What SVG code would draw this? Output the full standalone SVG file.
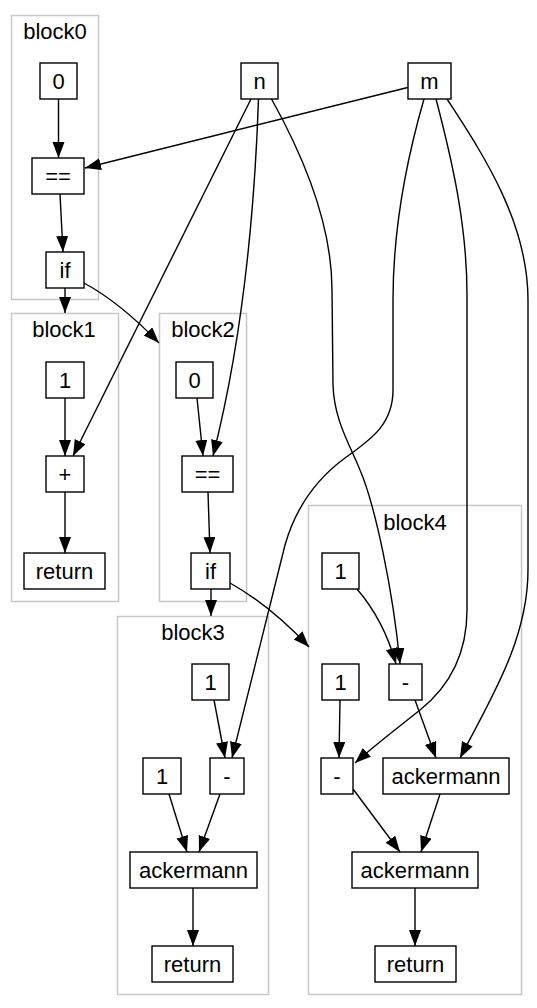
<svg xmlns="http://www.w3.org/2000/svg" width="537" height="1008" viewBox="0 0 537 1008">
<style>
text{font-family:"Liberation Sans",Arial,sans-serif;font-size:22px;text-anchor:middle;fill:#000}
.cl{fill:none;stroke:#c8c8c8;stroke-width:1.5}
.nd{fill:#fff;stroke:#000;stroke-width:1.4}
.e{fill:none;stroke:#000;stroke-width:1.4;marker-end:url(#ah)}
</style>
<defs>
<marker id="ah" markerUnits="userSpaceOnUse" markerWidth="17" markerHeight="13" refX="16" refY="6" orient="auto">
<path d="M0,0 L16,6 L0,12 z" fill="#000"/>
</marker>
</defs>
<rect width="537" height="1008" fill="#fff"/>
<g id="clusters">
<g id="block0"><rect class="cl" x="11.5" y="15.5" width="87" height="284"/><text x="55" y="39">block0</text></g>
<g id="block1"><rect class="cl" x="11.5" y="313.5" width="107" height="288"/><text x="64" y="337">block1</text></g>
<g id="block2"><rect class="cl" x="159.5" y="313.5" width="87" height="288"/><text x="203" y="337">block2</text></g>
<g id="block3"><rect class="cl" x="117.5" y="616.5" width="151" height="378"/><text x="193" y="640">block3</text></g>
<g id="block4"><rect class="cl" x="308.5" y="505.5" width="213" height="489"/><text x="415" y="530">block4</text></g>
</g>
<g id="edges">
<path class="e" d="M58.5,99 L58.5,158"/>
<path class="e" d="M60,194 L63,252"/>
<path class="e" d="M407.7,87.5 L85,168"/>
<path class="e" d="M65,288 L65,313"/>
<path class="e" d="M84,283 C108,296 135,318 159,343"/>
<path class="e" d="M251,99 L73,456"/>
<path class="e" d="M258.5,99 C255,200 245,330 213,456"/>
<path class="e" d="M271.5,99 C300,150 332,220 332,290 L333,385 C334,420 350,445 360,470 C375,505 393,590 400,664"/>
<path class="e" d="M424,99 C405,165 393,230 393,300 L393,390 C393,425 370,440 345,458 C315,480 295,510 285,545 L232,758"/>
<path class="e" d="M436,99 C452,160 467,225 467,295 L467,610 C467,660 445,690 420,710 C395,730 375,745 355,763"/>
<path class="e" d="M447,99 C480,150 528,220 528,300 L528,570 C528,640 490,700 460,758"/>
<path class="e" d="M211,589 L211,616"/>
<path class="e" d="M230,583 C255,597 282,618 309,647"/>
<path class="e" d="M65,398 L65,456"/>
<path class="e" d="M65,492 L65,553"/>
<path class="e" d="M197,398 L203,456"/>
<path class="e" d="M208,492 L210,553"/>
<path class="e" d="M214,700 L225,758"/>
<path class="e" d="M169,794 L187,852"/>
<path class="e" d="M220,794 L199,852"/>
<path class="e" d="M193,888 L193,946"/>
<path class="e" d="M357,589 C375,610 388,635 396,664"/>
<path class="e" d="M340,700 L339,758"/>
<path class="e" d="M415,700 L436,758"/>
<path class="e" d="M353,789 L400,852"/>
<path class="e" d="M440,794 L421,852"/>
<path class="e" d="M415,888 L415,946"/>
</g>
<g id="b0_0"><rect class="nd" x="40" y="63" width="37" height="36"/><text x="58.5" y="88.5">0</text></g>
<g id="b0_eq"><rect class="nd" x="32" y="158" width="52" height="36"/><text x="58" y="183.5">==</text></g>
<g id="b0_if"><rect class="nd" x="46" y="252" width="38" height="36"/><text x="65" y="277.5">if</text></g>
<g id="n"><rect class="nd" x="241" y="63" width="37" height="36"/><text x="259.5" y="88.5">n</text></g>
<g id="m"><rect class="nd" x="408" y="63" width="43" height="36"/><text x="429.5" y="88.5">m</text></g>
<g id="b1_1"><rect class="nd" x="46" y="362" width="38" height="36"/><text x="65" y="387.5">1</text></g>
<g id="b1_plus"><rect class="nd" x="46" y="456" width="38" height="36"/><text x="65" y="481.5">+</text></g>
<g id="b1_ret"><rect class="nd" x="24" y="553" width="81" height="36"/><text x="64.5" y="578.5">return</text></g>
<g id="b2_0"><rect class="nd" x="176" y="362" width="37" height="36"/><text x="194.5" y="387.5">0</text></g>
<g id="b2_eq"><rect class="nd" x="182" y="456" width="51" height="36"/><text x="207.5" y="481.5">==</text></g>
<g id="b2_if"><rect class="nd" x="191" y="553" width="39" height="36"/><text x="210.5" y="578.5">if</text></g>
<g id="b3_1a"><rect class="nd" x="192" y="664" width="37" height="36"/><text x="210.5" y="689.5">1</text></g>
<g id="b3_1b"><rect class="nd" x="143" y="758" width="38" height="36"/><text x="162" y="783.5">1</text></g>
<g id="b3_minus"><rect class="nd" x="210" y="758" width="34" height="36"/><text x="227" y="783.5">-</text></g>
<g id="b3_ack"><rect class="nd" x="130" y="852" width="127" height="36"/><text x="193.5" y="877.5">ackermann</text></g>
<g id="b3_ret"><rect class="nd" x="152" y="946" width="81" height="36"/><text x="192.5" y="971.5">return</text></g>
<g id="b4_1a"><rect class="nd" x="322" y="553" width="37" height="36"/><text x="340.5" y="578.5">1</text></g>
<g id="b4_minus_a"><rect class="nd" x="389" y="664" width="33" height="36"/><text x="405.5" y="689.5">-</text></g>
<g id="b4_1b"><rect class="nd" x="322" y="664" width="37" height="36"/><text x="340.5" y="689.5">1</text></g>
<g id="b4_minus_b"><rect class="nd" x="321" y="758" width="32" height="36"/><text x="337" y="783.5">-</text></g>
<g id="b4_ack_a"><rect class="nd" x="383" y="758" width="126" height="36"/><text x="446" y="783.5">ackermann</text></g>
<g id="b4_ack_b"><rect class="nd" x="352" y="852" width="126" height="36"/><text x="415" y="877.5">ackermann</text></g>
<g id="b4_ret"><rect class="nd" x="375" y="946" width="81" height="36"/><text x="415.5" y="971.5">return</text></g>
</svg>
